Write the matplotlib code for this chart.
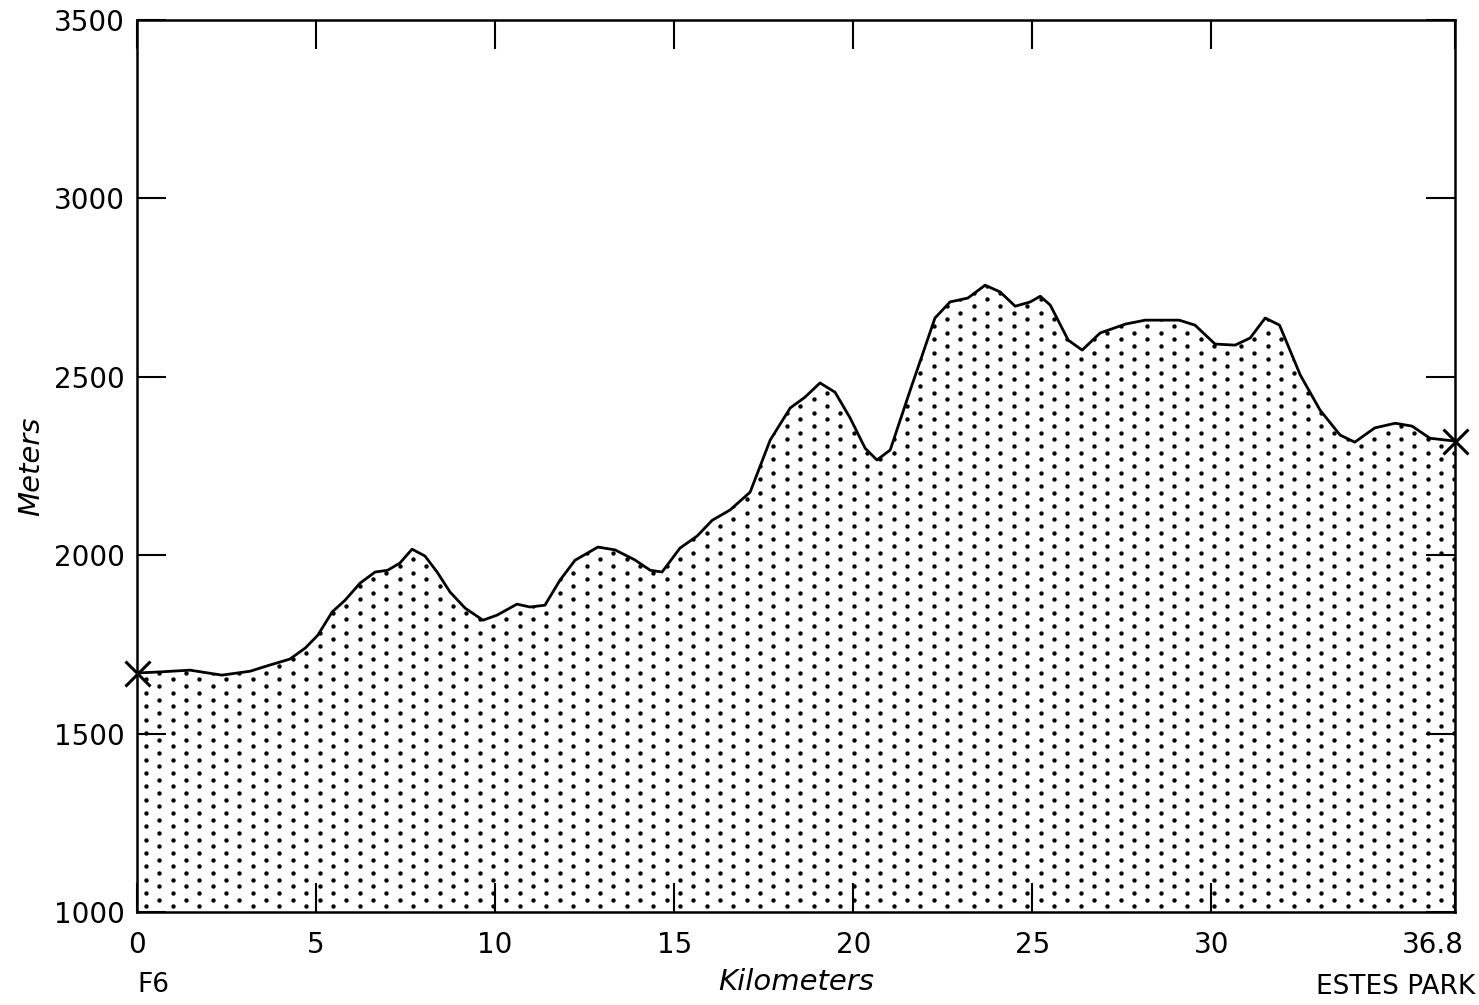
import numpy as np
import matplotlib
matplotlib.use("Agg")
import matplotlib.pyplot as plt
import matplotlib.transforms as mtransforms

# elevation profile (km, m)
km = [0.0, 0.64, 1.48, 2.37, 3.16, 3.7, 4.27, 4.7, 5.05, 5.45, 5.81, 6.23, 6.65, 7.0,
      7.34, 7.68, 8.04, 8.38, 8.74, 9.16, 9.66, 10.05, 10.61, 10.97, 11.39, 11.81,
      12.23, 12.87, 13.35, 13.9, 14.33, 14.66, 15.16, 15.64, 16.06, 16.56, 17.12,
      17.68, 18.24, 18.65, 19.07, 19.49, 19.91, 20.33, 20.66, 21.03, 21.59, 22.28,
      22.7, 23.2, 23.68, 24.1, 24.52, 24.94, 25.22, 25.5, 26.0, 26.39, 26.89, 27.6,
      28.15, 29.1, 29.54, 30.1, 30.66, 31.08, 31.5, 31.9, 32.48, 33.03, 33.59, 34.0,
      34.56, 35.13, 35.6, 36.1, 36.8]
elev = [1670, 1673, 1678, 1664, 1675, 1692, 1709, 1740, 1776, 1841, 1874, 1922, 1953,
        1958, 1978, 2017, 1998, 1953, 1897, 1852, 1818, 1832, 1863, 1855, 1860, 1930,
        1986, 2023, 2015, 1987, 1958, 1953, 2020, 2054, 2098, 2127, 2177, 2323, 2413,
        2443, 2483, 2457, 2385, 2300, 2267, 2295, 2463, 2665, 2710, 2721, 2757, 2738,
        2698, 2710, 2726, 2701, 2603, 2575, 2623, 2648, 2659, 2659, 2645, 2592, 2589,
        2609, 2665, 2645, 2505, 2407, 2337, 2317, 2357, 2370, 2362, 2328, 2320]

xticks = [0, 5, 10, 15, 20, 25, 30, 36.8]
xticklabels = ['0', '5', '10', '15', '20', '25', '30', '36.8']
yticks = [1000, 1500, 2000, 2500, 3000, 3500]

fig = plt.figure(figsize=(14.79, 10.05), dpi=100)
ax = fig.add_axes([0.0926, 0.0925, 0.8912, 0.8875])
ax.set_xlim(0, 36.8)
ax.set_ylim(1000, 3500)

# stippled fill under the profile
poly = ax.fill_between(km, elev, 1000, facecolor='none', edgecolor='none')
gx, gy = [], []
row = 0
for y in np.arange(1016, 3500, 18.7):
    off = 0.25 if row % 2 == 0 else 0.25 + 0.373
    for x in np.arange(off, 36.8, 0.7456):
        gx.append(x)
        gy.append(y)
    row += 1
dots = ax.scatter(gx, gy, s=10, c='black', linewidths=0, zorder=2)
dots.set_clip_path(poly.get_paths()[0], ax.transData)

ax.plot(km, elev, color='black', lw=2.0, zorder=3, solid_joinstyle='round')
ax.plot([km[0], km[-1]], [elev[0], elev[-1]], linestyle='none', marker='x',
        color='black', ms=18, mew=2.2, clip_on=False, zorder=4)

for s in ax.spines.values():
    s.set_linewidth(1.8)

ax.set_xticks(xticks)
ax.set_xticklabels(xticklabels)
ax.set_yticks(yticks)
ax.tick_params(direction='in', length=21, width=1.5, top=True, right=True,
               labelsize=20, pad=14)
ax.tick_params(axis='y', pad=9)
for t in ax.get_yticklabels():
    t.set_fontweight('medium')
lab = ax.get_xticklabels()[-1]
lab.set_horizontalalignment('right')
lab.set_transform(lab.get_transform() +
                  mtransforms.ScaledTranslation(0.09, 0, fig.dpi_scale_trans))

ax.set_xlabel('Kilometers', fontsize=21, style='italic', va='center')
ax.xaxis.set_label_coords(0.5, -0.078)
ax.set_ylabel('Meters', fontsize=21, style='italic', va='center')
ax.yaxis.set_label_coords(-0.08, 0.5)

ax.text(0, -0.082, 'F6', transform=ax.transAxes, fontsize=19, ha='left', va='center')
ax.text(1.015, -0.084, 'ESTES PARK', transform=ax.transAxes, fontsize=19,
        ha='right', va='center')

fig.savefig('out.png', dpi=100)
